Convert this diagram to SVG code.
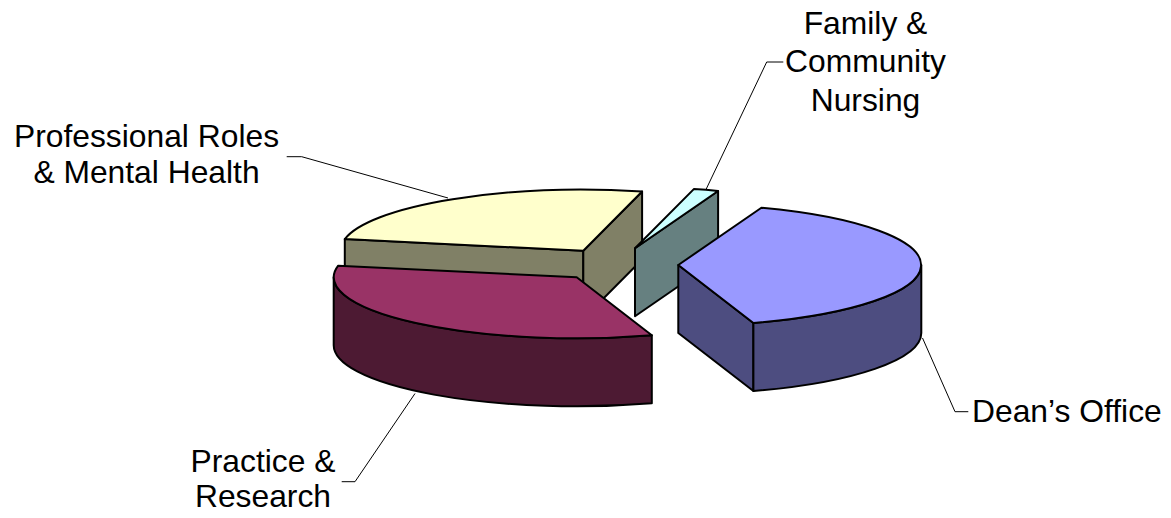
<svg xmlns="http://www.w3.org/2000/svg" width="1171" height="518" viewBox="0 0 1171 518">
<style>
.s{stroke:#000;stroke-width:2;stroke-linejoin:round}
.lbl{font-family:"Liberation Sans",Arial,sans-serif;font-size:31.8px;fill:#000}
.ld{fill:none;stroke:#000;stroke-width:1}
</style>
<rect width="1171" height="518" fill="#fff"/>
<g id="professional-roles">
<path class="s" fill="#808066" d="M344.8,239.1 L583.3,250.7 L583.3,318.7 L344.8,307.1 Z"/>
<path class="s" fill="#808066" d="M583.3,250.7 L642.1,191.5 L642.1,259.5 L583.3,318.7 Z"/>
<path class="s" fill="#FFFFCC" d="M583.3,250.7 L344.8,239.1 A243,61 0 0 1 642.1,191.5 Z"/>
</g>
<g id="family-community">
<path class="s" fill="#668080" d="M635,248.3 L718.1,191 L718.1,259 L635,316.3 Z"/>
<path class="s" fill="#CCFFFF" d="M635,248.3 L693.8,189.1 A243,61 0 0 1 718.1,191 Z"/>
</g>
<g id="deans-office">
<path class="s" fill="#4D4D80" d="M678.3,265 L753.4,323 L753.4,391 L678.3,333 Z"/>
<path class="s" fill="#4D4D80" d="M921.3,265 A243,61 0 0 1 753.4,323 L753.4,391 A243,61 0 0 0 921.3,333 Z"/>
<path class="s" fill="#9999FF" d="M678.3,265 L761.4,207.7 A243,61 0 0 1 753.4,323 Z"/>
</g>
<g id="practice-research">
<path class="s" fill="#4D1A33" d="M651.8,335.3 A243,61 0 0 1 333.7,277.3 L333.7,345.3 A243,61 0 0 0 651.8,403.3 Z"/>
<path class="s" fill="#993366" d="M576.7,277.3 L651.8,335.3 A243,61 0 0 1 338.2,265.7 Z"/>
</g>
<g id="connectors">
<path class="ld" d="M286.7,156.7 H301.7 L448,198"/>
<path class="ld" d="M341.7,481.7 H355 L415,393.5"/>
<path class="ld" d="M968.3,411.7 H955 L922.5,338"/>
<path class="ld" d="M783.3,62 H766.7 L706,189.5"/>
</g>
<g id="labels">
<text class="lbl" text-anchor="middle"><tspan x="146.5" y="146.7">Professional Roles</tspan><tspan x="146.5" y="183.3">&amp; Mental Health</tspan></text>
<text class="lbl" text-anchor="middle"><tspan x="263" y="471.7">Practice &amp;</tspan><tspan x="263" y="506.5">Research</tspan></text>
<text class="lbl" x="972" y="421.5">Dean’s Office</text>
<text class="lbl" text-anchor="middle"><tspan x="865.5" y="33.5">Family &amp;</tspan><tspan x="865.5" y="72">Community</tspan><tspan x="865.5" y="110.5">Nursing</tspan></text>
</g>
</svg>
